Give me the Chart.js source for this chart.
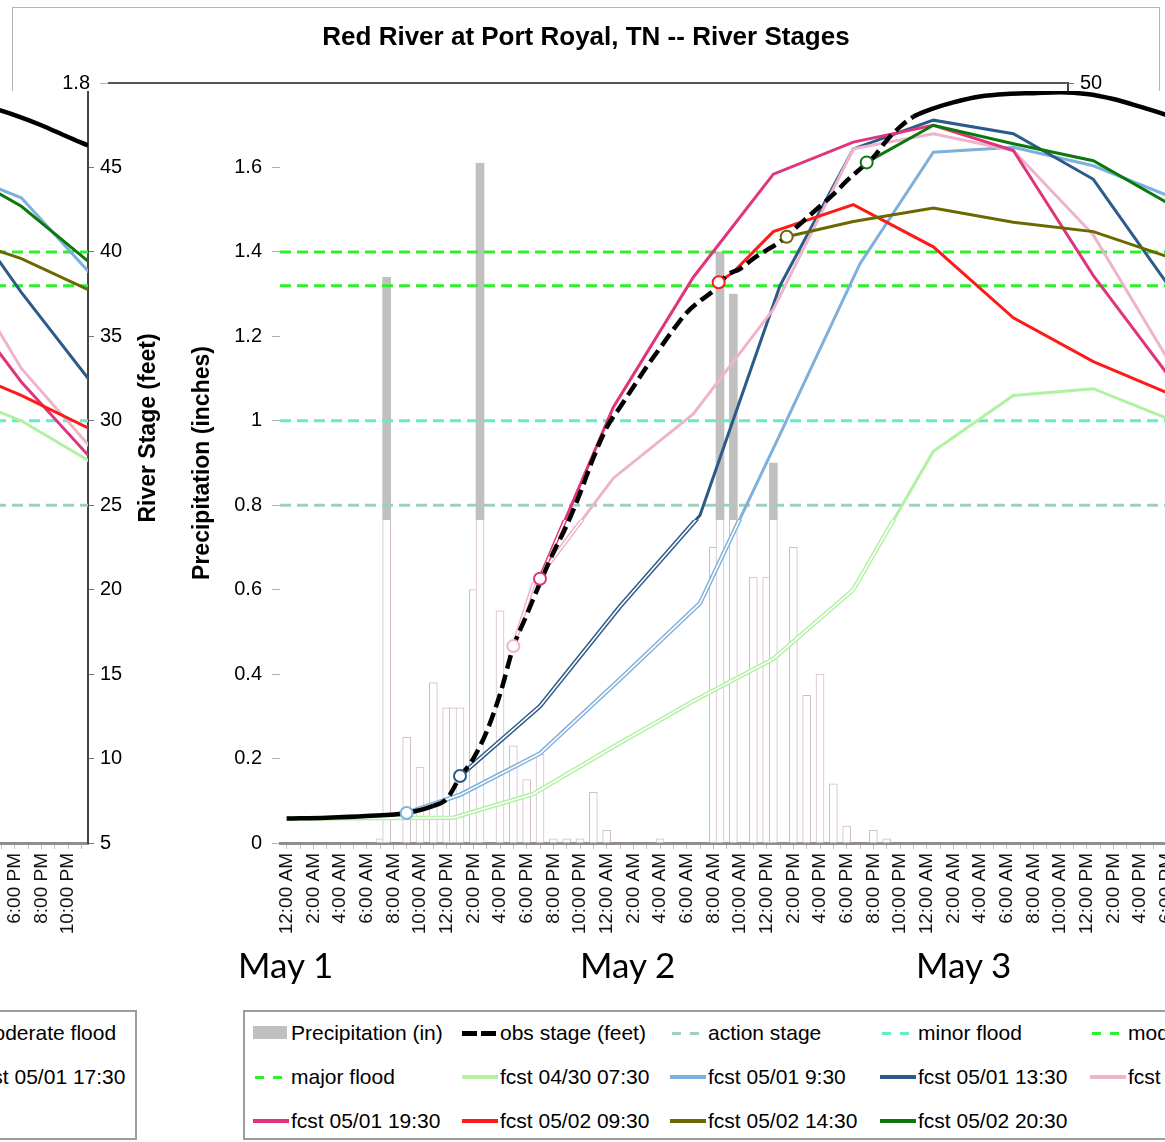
<!DOCTYPE html>
<html>
<head>
<meta charset="utf-8">
<title>Red River at Port Royal, TN -- River Stages</title>
<script src="https://cdn.jsdelivr.net/npm/chart.js@4.4.1/dist/chart.umd.min.js"></script>
<style>
  html, body { margin:0; padding:0; background:#fff; }
  body { width:1165px; height:1142px; position:relative; overflow:hidden;
         font-family:"Liberation Sans", Arial, Helvetica, sans-serif; }
  .clip { position:absolute; left:0; width:1165px; overflow:hidden; }
  .frame { position:absolute; width:1152px; height:1142px; background:#fff; }
  .frame canvas { position:absolute; left:0; top:0; }
  .legend { position:absolute; left:71px; top:1010px; width:1046px; height:130px;
            box-sizing:border-box; border:2px solid #9c9c9c; background:#fff; }
  .lg-text { position:absolute; font-size:21px; line-height:24px; height:24px;
             white-space:nowrap; color:#000; }
  .lg-icon { position:absolute; }
  #titleBox { position:absolute; left:12px; top:7px; width:1148px; height:200px;
              box-sizing:border-box; border:1px solid #b4b4b4; }
  #titleText { position:absolute; left:0; top:13px; width:100%; text-align:center;
               font-weight:bold; font-size:26px; line-height:30px; color:#000; }
  .day { position:absolute; top:944px; font-family:Lato, "Open Sans", sans-serif;
         font-size:35px; line-height:40px; color:#000; white-space:nowrap; }
</style>
</head>
<body>
<div id="layers"></div>
<div class="clip" style="top:0;height:91px;">
  <div id="titleBox"><div id="titleText">Red River at Port Royal, TN -- River Stages</div></div>
</div>
<div id="days"></div>
<script>
// ---------------- DATA ----------------
const tickLabels = ['12:00 AM','1:00 AM','2:00 AM','3:00 AM','4:00 AM','5:00 AM','6:00 AM','7:00 AM',
  '8:00 AM','9:00 AM','10:00 AM','11:00 AM','12:00 PM','1:00 PM','2:00 PM','3:00 PM','4:00 PM',
  '5:00 PM','6:00 PM','7:00 PM','8:00 PM','9:00 PM','10:00 PM','11:00 PM'];
const dayLabels = ['May 1', 'May 2', 'May 3'];

// hours since 12:00 AM May 1
const precipHours  = [7, 7.5, 9, 10, 11, 12, 12.5, 13, 14, 14.5, 16, 17, 18, 19, 20, 21, 22, 23, 24, 28,
                      32, 32.5, 33.5, 35, 36, 36.5, 38, 39, 40, 41, 42, 44, 45];
const precipInches = [0.01, 1.34, 0.25, 0.18, 0.38, 0.32, 0.32, 0.32, 0.60, 1.61, 0.55, 0.23, 0.15, 0.21, 0.01, 0.01, 0.01, 0.12, 0.03, 0.01,
                      0.70, 1.40, 1.30, 0.63, 0.63, 0.90, 0.70, 0.35, 0.40, 0.14, 0.04, 0.03, 0.01];

const obsHours = [0, 3, 6, 9, 11, 12, 13, 14, 15, 16, 17, 18, 19, 20, 21, 22, 23, 24, 25, 26, 27, 28, 29, 30,
                  31, 32, 33, 34, 35, 36, 37, 38, 39, 40, 41, 42, 43, 44, 45, 46, 47, 48, 50, 52, 54, 56, 58,
                  60, 62, 64, 66, 68, 70, 71.5];
const obsStage = [6.45, 6.5, 6.6, 6.78, 7.2, 7.6, 8.9, 10.0, 11.6, 13.8, 16.6, 18.5, 20.4, 22.2, 23.8, 25.7,
                  27.8, 29.6, 30.8, 32.0, 33.2, 34.3, 35.4, 36.4, 37.1, 37.7, 38.6, 39.0, 39.6, 40.1, 40.6,
                  41.3, 42.0, 42.7, 43.4, 44.2, 44.9, 45.6, 46.6, 47.4, 48.0, 48.35, 48.85, 49.2, 49.35,
                  49.4, 49.45, 49.35, 49.05, 48.6, 48.1, 47.5, 46.8, 46.3];

const fcst0430Hours = [0, 12.5, 18.5, 24.5, 30.5, 36.5, 42.5, 48.5, 54.5, 60.5, 66.5, 72.5];
const fcst0430Stage = [6.45, 6.5, 7.9, 10.7, 13.4, 15.9, 20.0, 28.2, 31.5, 31.9, 30.0, 27.2];
const fcst0501aHours = [9, 13, 19, 25, 31, 37, 43, 48.5, 54.5, 60.5, 66.5, 72.5];
const fcst0501aStage = [6.78, 7.85, 10.3, 14.7, 19.2, 29.2, 39.3, 45.9, 46.2, 45.1, 43.2, 38.0];
const fcst0501bHours = [13, 19, 25, 31, 37, 42.5, 48.5, 54.5, 60.5, 66.5, 72.5];
const fcst0501bStage = [8.97, 13.1, 19.0, 24.4, 38.0, 46.1, 47.8, 47.0, 44.3, 37.6, 31.5];
const fcst0501cHours = [17, 18.5, 24.5, 30.5, 36.5, 42.5, 48.5, 54.5, 60.5, 66.5, 72.5];
const fcst0501cStage = [16.66, 20.3, 26.6, 30.4, 36.6, 46.1, 47.0, 46.0, 41.0, 33.1, 27.7];
const fcst0501dHours = [19, 24.5, 30.5, 36.5, 42.5, 48.5, 54.5, 60.5, 66.5, 72.5];
const fcst0501dStage = [20.65, 30.8, 38.5, 44.6, 46.5, 47.5, 46.0, 38.6, 32.3, 27.1];
const fcst0502aHours = [32.4, 33.5, 36.5, 42.5, 48.5, 54.5, 60.5, 66.5, 72.5];
const fcst0502aStage = [38.2, 38.8, 41.2, 42.8, 40.3, 36.1, 33.5, 31.5, 29.2];
const fcst0502bHours = [37.5, 42.5, 48.5, 54.5, 60.5, 66.5, 72.5];
const fcst0502bStage = [40.9, 41.8, 42.6, 41.75, 41.2, 39.6, 37.4];
const fcst0502cHours = [43.5, 48.5, 54.5, 60.5, 66.5, 72.5];
const fcst0502cStage = [45.3, 47.5, 46.4, 45.4, 42.7, 38.8];

const floodNames  = ['action stage', 'minor flood', 'moderate flood', 'major flood'];
const floodStages = [25, 30, 38, 40];

const precipTicks = [0, 1.8, 0.2];   // min, max, step
const stageTicks  = [5, 50, 5];

// ---------------- STYLE / CONFIG ----------------
const FONT = '"Liberation Sans", Arial, Helvetica, sans-serif';
Chart.defaults.font.family = FONT;
Chart.defaults.color = '#000';

const X_MIN = -0.5, X_MAX = 71.5;
const tickHours = [];
for (let h = 0; h <= 71; h++) tickHours.push(h);

const forecastSeries = [
  {label:'fcst 04/30 07:30', hours:fcst0430Hours,  stage:fcst0430Stage,  color:'#b0f2a2', marker:false},
  {label:'fcst 05/01 9:30',  hours:fcst0501aHours, stage:fcst0501aStage, color:'#7db0dc', marker:true},
  {label:'fcst 05/01 13:30', hours:fcst0501bHours, stage:fcst0501bStage, color:'#2d5b89', marker:true},
  {label:'fcst 05/01 17:30', hours:fcst0501cHours, stage:fcst0501cStage, color:'#efb3ca', marker:true},
  {label:'fcst 05/01 19:30', hours:fcst0501dHours, stage:fcst0501dStage, color:'#e0357c', marker:true},
  {label:'fcst 05/02 09:30', hours:fcst0502aHours, stage:fcst0502aStage, color:'#ff1a1a', marker:true},
  {label:'fcst 05/02 14:30', hours:fcst0502bHours, stage:fcst0502bStage, color:'#6b6800', marker:true},
  {label:'fcst 05/02 20:30', hours:fcst0502cHours, stage:fcst0502cStage, color:'#0b780b', marker:true}
];
const floodColors = ['#a0cfc0', '#66ecc4', '#2cf02c', '#2cf02c'];

const legendOrder = ['Precipitation (in)','obs stage (feet)','action stage','minor flood','moderate flood',
  'major flood','fcst 04/30 07:30','fcst 05/01 9:30','fcst 05/01 13:30','fcst 05/01 17:30',
  'fcst 05/01 19:30','fcst 05/02 09:30','fcst 05/02 14:30','fcst 05/02 20:30'];
const legendColX = [81, 290, 498, 708, 918];
const legendRowY = [1033, 1077, 1121];

const pts = (xs, ys) => xs.map((x, i) => ({x: x, y: ys[i]}));

function makeDatasets(style) {
  if (style === 'axes') return [];
  const outline = style === 'outline';
  const ds = [];
  ds.push({
    type:'line', label:'obs stage (feet)', data: pts(obsHours, obsStage),
    borderColor:'#000', borderWidth:4.5, pointRadius:0, cubicInterpolationMode:'monotone',
    segment:{ borderDash: c => (c.p0.parsed.x >= 11 && c.p0.parsed.x < 47) ? [14, 6] : undefined },
    yAxisID:'y', xAxisID:'x', order:5, kind:'obs'
  });
  forecastSeries.forEach((f, i) => {
    ds.push({
      type:'line', label:f.label, data: pts(f.hours, f.stage),
      borderColor:f.color, borderWidth: outline ? 4.5 : 3, pointRadius:0,
      yAxisID:'y', xAxisID:'x', order: 30 - i, kind:'line'
    });
    if (outline) {
      ds.push({
        type:'line', label:f.label, data: pts(f.hours, f.stage),
        borderColor:'#ffffff', borderWidth:1.6, pointRadius:0,
        yAxisID:'y', xAxisID:'x', order: 20 - i, isCore:true
      });
    }
    if (f.marker) {
      // start-of-forecast marker, drawn above all lines
      ds.push({
        type:'line', label:f.label, data: pts([f.hours[0]], [f.stage[0]]),
        showLine:false, pointRadius:6, pointBackgroundColor:'#fff',
        pointBorderColor:f.color, pointBorderWidth:2,
        yAxisID:'y', xAxisID:'x', order:1, isCore:true
      });
    }
  });
  floodNames.forEach((n, i) => {
    ds.push({
      type:'line', label:n, data: pts([X_MIN, X_MAX], [floodStages[i], floodStages[i]]),
      borderColor:floodColors[i], borderWidth:3, borderDash:[11, 6], pointRadius:0,
      yAxisID:'y', xAxisID:'x', order:50 + i, kind:'flood'
    });
  });
  ds.push({
    type:'bar', label:'Precipitation (in)', data: pts(precipHours, precipInches),
    backgroundColor: outline ? '#ffffff' : '#c0c0c0',
    borderColor: outline ? '#d4bcc6' : '#c0c0c0', borderWidth: outline ? 1 : 0,
    barThickness:8, yAxisID:'y1', xAxisID:'x', order:100, kind:'bar'
  });
  return ds;
}

const decor = {
  id:'decor',
  afterDraw(chart) {
    const {ctx, chartArea:a} = chart;
    ctx.save();
    ctx.strokeStyle = '#555'; ctx.lineWidth = 2;
    ctx.beginPath(); ctx.moveTo(a.left, a.top); ctx.lineTo(a.right, a.top); ctx.stroke();
    ctx.fillStyle = '#000';
    ctx.font = 'bold 23px ' + FONT;
    ctx.textAlign = 'center'; ctx.textBaseline = 'middle';
    ctx.save(); ctx.translate(31, (a.top + a.bottom) / 2); ctx.rotate(-Math.PI / 2);
    ctx.fillText('Precipitation (inches)', 0, 0); ctx.restore();
    ctx.save(); ctx.translate(chart.scales.y.right - 23, 428); ctx.rotate(-Math.PI / 2);
    ctx.fillText('River Stage (feet)', 0, 0); ctx.restore();
    ctx.restore();
  }
};

function makeConfig(style) {
  return {
    type:'bar',
    data:{ datasets: makeDatasets(style) },
    options:{
      responsive:false, animation:false, devicePixelRatio:1,
      layout:{ padding:{ top:83, left:0, right:0, bottom:0 } },
      plugins:{ legend:{ display:false }, tooltip:{ enabled:false }, title:{ display:false } },
      scales:{
        x:{
          type:'linear', position:'bottom', min:X_MIN, max:X_MAX, offset:false,
          afterBuildTicks: s => { s.ticks = tickHours.map(v => ({value:v})); },
          afterFit: s => { s.height = 157; },
          ticks:{ autoSkip:false, maxRotation:90, minRotation:90, padding:4, color:'#111',
                  font:{ size:19 }, callback: v => (v % 2 === 0) ? tickLabels[v % 24] : '' },
          grid:{ drawOnChartArea:false, drawTicks:true, tickLength:6, color:'#c9b9bf', offset:false },
          border:{ display:true, color:'#8f8f8f', width:3 }
        },
        y1:{
          type:'linear', position:'left', min:precipTicks[0], max:precipTicks[1],
          afterFit: s => { s.width = 108; },
          ticks:{ stepSize:precipTicks[2], padding:10, color:'#000', font:{ size:20 },
                  callback: v => String(Math.round(v * 10) / 10) },
          grid:{ drawOnChartArea:false, drawTicks:true, tickLength:8, color:'#b0b0b0' },
          border:{ display:false }
        },
        y:{
          type:'linear', position:'right', min:stageTicks[0], max:stageTicks[1],
          afterFit: s => { s.width = 84; },
          ticks:{ stepSize:stageTicks[2], padding:6, color:'#000', font:{ size:20 } },
          grid:{ drawOnChartArea:false, drawTicks:true, tickLength:6, color:'#777' },
          border:{ display:true, color:'#444', width:2 }
        }
      }
    },
    plugins:[decor]
  };
}

function el(tag, cls, styles) {
  const e = document.createElement(tag);
  if (cls) e.className = cls;
  if (styles) Object.assign(e.style, styles);
  return e;
}

function buildLegend(frame, datasets) {
  frame.appendChild(el('div', 'legend'));
  const entries = datasets.filter(d => !d.isCore);
  legendOrder.forEach((lab, k) => {
    const d = entries.find(e => e.label === lab);
    if (!d) return;
    const x = legendColX[k % 5], cy = legendRowY[Math.floor(k / 5)];
    if (d.kind === 'bar') {
      frame.appendChild(el('div', 'lg-icon', {left:x+'px', top:(cy-7)+'px', width:'34px', height:'13px', background:'#c0c0c0'}));
    } else if (d.kind === 'obs') {
      frame.appendChild(el('div', 'lg-icon', {left:x+'px', top:(cy-2)+'px', width:'15px', height:'5px', background:'#000'}));
      frame.appendChild(el('div', 'lg-icon', {left:(x+19)+'px', top:(cy-2)+'px', width:'15px', height:'5px', background:'#000'}));
    } else if (d.kind === 'flood') {
      frame.appendChild(el('div', 'lg-icon', {left:(x+2)+'px', top:(cy-1)+'px', width:'9px', height:'3px', background:d.borderColor}));
      frame.appendChild(el('div', 'lg-icon', {left:(x+20)+'px', top:(cy-1)+'px', width:'9px', height:'3px', background:d.borderColor}));
    } else {
      frame.appendChild(el('div', 'lg-icon', {left:x+'px', top:(cy-2)+'px', width:'36px', height:'4px', background:d.borderColor}));
    }
    const t = el('div', 'lg-text', {left:(x+38)+'px', top:(cy-12)+'px'});
    t.textContent = lab;
    frame.appendChild(t);
  });
}

function addLayer(top, height, dx, style, withLegend) {
  const clip = el('div', 'clip', {top:top+'px', height:height+'px'});
  const frame = el('div', 'frame', {left:dx+'px', top:(-top)+'px'});
  const cv = document.createElement('canvas');
  cv.width = 1152; cv.height = 1000;
  cv.style.width = '1152px'; cv.style.height = '1000px';
  frame.appendChild(cv);
  const cfg = makeConfig(style);
  if (withLegend) buildLegend(frame, cfg.data.datasets);
  clip.appendChild(frame);
  document.getElementById('layers').appendChild(clip);
  new Chart(cv, cfg);
}

// upper band drawn in place, lower bands offset and wrapped
addLayer(0, 91, 0, 'axes', false);
addLayer(91, 429, 172, 'solid', false);
addLayer(91, 429, 172 - 1152, 'solid', false);
addLayer(520, 622, 172, 'outline', true);
addLayer(520, 622, 172 - 1152, 'outline', true);

// day captions under the time axis
const dayX = [238, 580, 916];
const daysDiv = document.getElementById('days');
dayLabels.forEach((d, i) => {
  const e = el('div', 'day', {left:dayX[i]+'px'});
  e.textContent = d;
  daysDiv.appendChild(e);
});
</script>
</body>
</html>
